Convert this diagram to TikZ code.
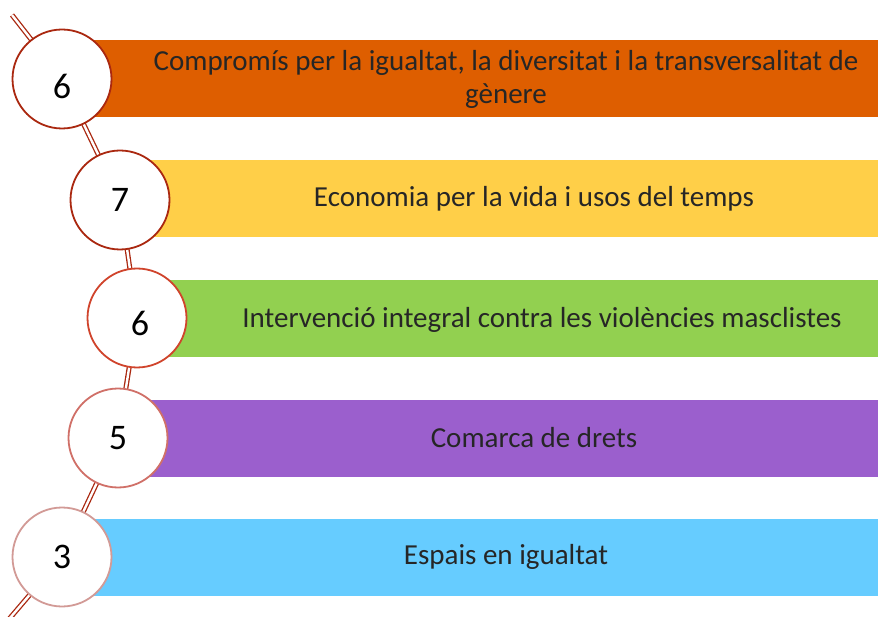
\documentclass[tikz,border=0pt]{standalone}
\usepackage{fontspec}
\setmainfont{Carlito}
\usepackage{tikz}
\usetikzlibrary{positioning, calc, backgrounds}
\definecolor{cOrange}{RGB}{222,94,0}
\definecolor{cYellow}{RGB}{255,207,72}
\definecolor{cGreen}{RGB}{146,208,80}
\definecolor{cPurple}{RGB}{155,95,205}
\definecolor{cBlue}{RGB}{102,204,255}
\definecolor{cRingA}{RGB}{170,40,16}
\definecolor{cRingB}{RGB}{208,68,44}
\definecolor{cRingC}{RGB}{208,112,104}
\definecolor{cRingD}{RGB}{210,154,150}
\tikzset{
	bar/.style   ={rectangle, anchor=west, inner sep=0pt, minimum height=77pt, draw=none},
	ring/.style  ={circle, draw=#1, line width=1.8pt, fill=white, minimum size=99pt, inner sep=0pt, font=\fontsize{36}{40}\selectfont},
	barlbl/.style={align=center, font=\fontsize{29}{33}\selectfont, inner sep=0pt, text=black!85},
	chain/.style ={draw=cRingA, line width=1.3pt, double=white, double distance=2.4pt},
}

\begin{document}
\begin{tikzpicture}[x=1pt, y=-1pt]
	\useasboundingbox (0,0) rectangle (878,617);
	% bars
	\node[bar, fill=cOrange, minimum width=816pt] (b1) at (62,78.5) {};
	\node[bar, fill=cYellow, minimum width=758pt] (b2) at (120,199) {};
	\node[bar, fill=cGreen,  minimum width=741pt] (b3) at (137,318.5) {};
	\node[bar, fill=cPurple, minimum width=760pt] (b4) at (118,438.5) {};
	\node[bar, fill=cBlue,   minimum width=816pt] (b5) at (62,557.5) {};
	\node[barlbl] (t1) at (506,79) {Compromís per la igualtat, la diversitat i la transversalitat de\\gènere};
	\node[barlbl] (t2) at (534,199) {Economia per la vida i usos del temps};
	\node[barlbl] (t3) at (542,320) {Intervenció integral contra les violències masclistes};
	\node[barlbl] (t4) at (534,438) {Comarca de drets};
	\node[barlbl] (t5) at (506,557) {Espais en igualtat};
	% circles on the chain
	\coordinate (top) at (12,15);
	\coordinate (bot) at (4,625);
	\node[ring=cRingA, text height=40pt, text depth=0pt] (c1) at (62,79) {6};
	\node[ring=cRingA] (c2) at (120,200) {7};
	\node[ring=cRingB, text height=36pt, text depth=0pt] (c3) at (137,318) {\hspace{6pt}6};
	\node[ring=cRingC] (c4) at (118,438) {5};
	\node[ring=cRingD] (c5) at (62,557) {3};
	\begin{scope}[on background layer]
		\draw[chain] (top) -- (c1.center) -- (c2.center) -- (c3.center) -- (c4.center) -- (c5.center) -- (bot);
	\end{scope}
\end{tikzpicture}
\end{document}
